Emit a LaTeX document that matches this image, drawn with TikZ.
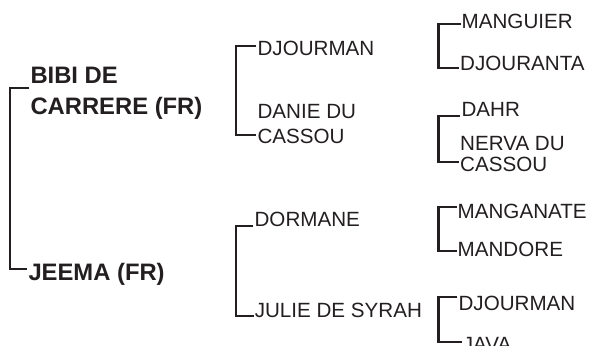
\documentclass[tikz,border=0pt]{standalone}
\usepackage{fontspec}
\setmainfont{Liberation Sans}
\usetikzlibrary{calc, positioning}
\definecolor{pedink}{RGB}{35,31,32}

\tikzset{
  horse/.style={anchor=base west, inner xsep=1pt, inner ysep=0pt, align=left, text=pedink},
  first gen/.style={horse, font=\bfseries\fontsize{23.8}{30.5}\selectfont},
  second gen/.style={horse, font=\fontsize{20.6}{25}\selectfont},
  third gen/.style={horse, font=\fontsize{20.6}{21}\selectfont},
  pedline/.style={draw=pedink, line width=2.1pt},
}

\begin{document}
\begin{tikzpicture}[x=1pt, y=-1pt]
        \useasboundingbox (0,0) rectangle (593,345);

        % columns of the brackets
        \coordinate (col1) at (10,0);
        \coordinate (col2) at (236,0);
        \coordinate (col3) at (438.5,0);

        % first generation (multi-line nodes sit on their last line)
        \node [first gen] (sire) at (29.3,114) {BIBI DE\\CARRERE (FR)};
        \node [first gen] (dam) at (27.3,280) {JEEMA (FR)};

        % second generation
        \foreach \n/\t/\x/\y in {s/DJOURMAN/256.4/56, d/{DANIE DU\\CASSOU}/256.4/143,
                                 ds/DORMANE/253.4/226, dd/JULIE DE SYRAH/253.6/317.5}
        \node [second gen] (g2-\n) at (\x,\y) {\t};

        % third generation
        \foreach \n/\t/\x/\y in {ss/MANGUIER/460.5/28.5, sd/DJOURANTA/459/70.5,
                                 ds/DAHR/460.4/116.5, dd/{NERVA DU\\CASSOU}/459/171.5,
                                 dss/MANGANATE/456.5/218, dsd/MANDORE/456.5/256.5,
                                 dds/DJOURMAN/457.4/310, ddd/JAVA/461.6/351}
        \node [third gen] (g3-\n) at (\x,\y) {\t};

        % brackets from sire to dam
        \foreach \s/\a/\d/\b/\c in {sire/-26/dam/-11/col1,
                                    g2-s/-10/g2-d/-8/col2, g2-ds/0/g2-dd/-1.5/col2,
                                    g3-ss/-4.5/g3-sd/-2.5/col3, g3-ds/-0.5/g3-dd/-9.5/col3,
                                    g3-dss/-11/g3-dsd/-5.5/col3, g3-dds/-13/g3-ddd/-9/col3}
        {
        \coordinate (\s-arm) at ($(\s.base west)+(0,\a)$);
        \coordinate (\d-arm) at ($(\d.base west)+(0,\b)$);
        \draw [pedline] (\s-arm) -- (\s-arm -| \c) -- (\d-arm -| \c) -- (\d-arm);
        }

\end{tikzpicture}
\end{document}
